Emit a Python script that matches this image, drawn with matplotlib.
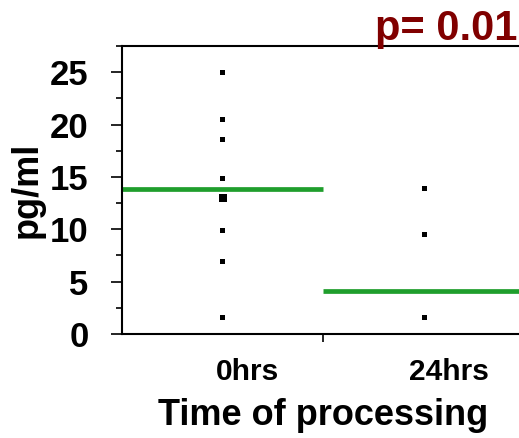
import matplotlib
matplotlib.use("Agg")
import matplotlib.pyplot as plt
from matplotlib.transforms import ScaledTranslation
from matplotlib.ticker import MultipleLocator, FixedLocator

plt.rcParams['font.family'] = ['Liberation Sans', 'DejaVu Sans']
plt.rcParams['font.weight'] = 'bold'

# data
groups = ['0hrs', '24hrs']
vals_0h = [25.0, 20.5, 18.6, 14.85, 13.0, 9.9, 6.9, 1.55]
count_0h = [1, 1, 1, 1, 2, 1, 1, 1]   # the bigger square looks like two overlapping points
vals_24h = [13.9, 9.5, 1.55]
count_24h = [1, 1, 1]
means = [13.85, 4.1]
p_text = 'p= 0.01'

fig = plt.figure(figsize=(5.19, 4.38), dpi=100)
ax = fig.add_axes([0.235, 0.2374, 0.7765, 0.6575])

for i, (vals, cnt) in enumerate([(vals_0h, count_0h), (vals_24h, count_24h)]):
    sizes = [14 if c == 1 else 34 for c in cnt]
    ax.scatter([i] * len(vals), vals, s=sizes, marker='s', c='black', lw=0, zorder=3)
    ax.hlines(means[i], i - 0.5, i + 0.5, colors='#1f9e2c', lw=3.4, zorder=2)

ax.set_xlim(-0.5, 1.5)
ax.set_ylim(0, 27.5)

ax.yaxis.set_major_locator(MultipleLocator(5))
ax.yaxis.set_minor_locator(MultipleLocator(2.5))
ax.tick_params(axis='y', which='major', length=8, width=1.2, pad=16, labelsize=25)
ax.tick_params(axis='y', which='minor', length=4.5, width=1.2)

ax.set_xticks([0, 1])
ax.set_xticklabels(groups)
ax.xaxis.set_minor_locator(FixedLocator([0.5]))
ax.tick_params(axis='x', which='major', length=0, pad=17, labelsize=21.5)
ax.tick_params(axis='x', which='minor', length=6, width=1.2)
off = ScaledTranslation(0.25, 0, fig.dpi_scale_trans)
for lab in ax.get_xticklabels():
    lab.set_transform(lab.get_transform() + off)

for s in ['left', 'bottom', 'top']:
    ax.spines[s].set_linewidth(1.5)
ax.spines['right'].set_visible(False)

ax.set_xlabel('Time of processing', fontsize=26, fontweight='bold', labelpad=9)
ax.set_ylabel('pg/ml', fontsize=26, fontweight='bold', labelpad=4)

fig.text(0.996, 0.909, p_text, ha='right', va='baseline', fontsize=30,
         fontweight='bold', color='#800000')

fig.savefig('out.png', dpi=100)
